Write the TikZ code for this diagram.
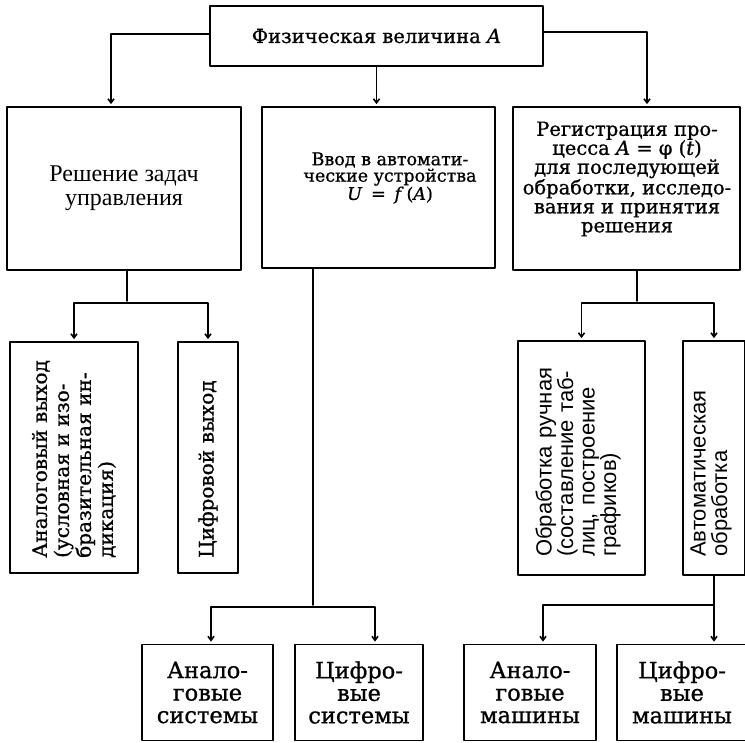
\documentclass[tikz,border=0pt]{standalone}
\usepackage{fontspec}
\setmainfont[FakeBold=0.9]{DejaVu Serif}
\newfontfamily\timesfont{Liberation Serif}
\newfontfamily\arialfont{Liberation Sans}
\usetikzlibrary{arrows.meta,calc}

\begin{document}
\begin{tikzpicture}[x=1pt,y=-1pt,>={Straight Barb[length=4pt,width=6pt]},
    line join=round, line cap=round,
    box/.style={draw,line width=1.8pt,inner sep=0pt,align=center},
    link/.style={line width=1.6pt,shorten >=2pt},
    vtxt/.style={rotate=90,anchor=west,inner sep=0pt,align=left,text width=210pt}]
  \useasboundingbox (0,0) rectangle (745,743);

  % top level
  \node[box,minimum width=333pt,minimum height=60pt,font=\fontsize{19.5}{19}\selectfont] (fv) at (376.5,36) {Физическая величина \textit{A}};

  % second level
  \node[box,minimum width=234pt,minimum height=163pt,font=\timesfont\fontsize{24}{24}\selectfont] (ctl) at (124,188.5) {Решение задач\\управления};
  \node[box,minimum width=233pt,minimum height=161pt] (inp) at (378.5,187.5) {};
  \node[inner sep=0pt,align=center,font=\fontsize{17.5}{16.5}\selectfont] (inptxt) at (390,178) {Ввод в автомати-\\ческие устройства\\\textit{U}\enspace=\enspace\textit{f}\,(\textit{A})};
  \node[box,minimum width=227pt,minimum height=163pt] (reg) at (626.5,188.5) {};
  \node[inner sep=0pt,align=center,font=\fontsize{19.5}{19}\selectfont] (regtxt) at (627,179) {Регистрация про-\\цесса \textit{A} = φ (\textit{t})\\для последующей\\обработки, исследо-\\вания и принятия\\решения};
  \draw[link,->] ([yshift=2pt]fv.west) -| ([xshift=-13pt]ctl.north);
  \draw[link,->] (fv.south) -- (fv.south |- inp.north);
  \draw[link,->] ([yshift=4pt]fv.east) -| ([xshift=20.5pt]reg.north);

  % outputs of the control task
  \node[box,minimum width=128pt,minimum height=231pt] (anout) at (74,457.5) {};
  \node[box,minimum width=60pt,minimum height=231pt] (digout) at (208,457.5) {};
  \node[vtxt,font=\fontsize{20}{22}\selectfont] (anouttxt) at (74,558) {Аналоговый выход\\(условная и изо-\\бразительная ин-\\дикация)};
  \node[vtxt,font=\fontsize{20}{22}\selectfont] (digouttxt) at (208,558) {Цифровой выход};
  \coordinate (c1) at (127,303);
  \draw[link] (ctl.south -| c1) -- (c1);
  \draw[link,->] (c1) -| (anout.north);
  \draw[link,->] (c1) -| (digout.north);

  % processing of the record
  \node[box,minimum width=127pt,minimum height=234pt] (manual) at (581.5,458) {};
  \node[box,minimum width=62pt,minimum height=234pt] (auto) at (714,458) {};
  \node[vtxt,font=\arialfont\fontsize{22}{21.5}\selectfont] (manualtxt) at (578,557) {Обработка ручная\\(составление таб-\\лиц, построение\\графиков)};
  \node[vtxt,font=\arialfont\fontsize{22}{21.5}\selectfont] (autotxt) at (711,557) {Автоматическая\\обработка};
  \coordinate (c3) at (637,303);
  \draw[link] (reg.south -| c3) -- (c3);
  \draw[link,->] (c3) -| (manual.north);
  \draw[link,->] (c3) -| (auto.north);

  % bottom level
  \foreach \nm/\cx/\bw/\txt in {ansys/207.5/131/{Анало-\\говые\\системы},
      digsys/359/128/{Цифро-\\вые\\системы},
      anmach/530/132/{Анало-\\говые\\машины},
      digmach/682/130/{Цифро-\\вые\\машины}}
    \node[box,minimum width=\bw pt,minimum height=96pt,font=\fontsize{22.5}{22.5}\selectfont] (\nm) at (\cx,692.5) {\txt};
  \coordinate (c2) at (313,607);
  \draw[link] (inp.south -| c2) -- (c2);
  \draw[link,->] (c2) -| ([xshift=3.5pt]ansys.north);
  \draw[link,->] (c2) -| ([xshift=16pt]digsys.north);
  \coordinate (c4) at ($(auto.south)+(0,29)$);
  \draw[link,->] (auto.south) -- (auto.south |- digmach.north);
  \draw[link,->] (c4) -| ([xshift=13pt]anmach.north);
\end{tikzpicture}
\end{document}
